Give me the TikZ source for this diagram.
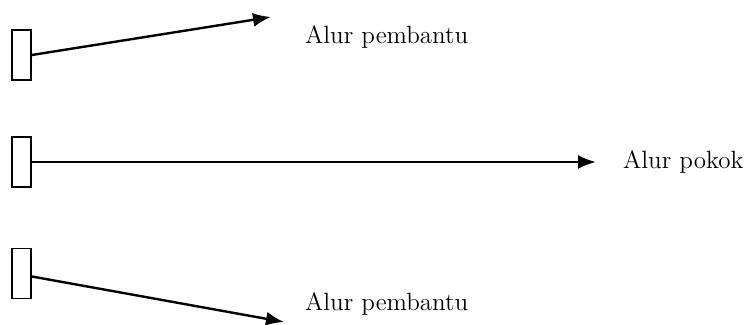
\documentclass[tikz,border=0pt]{standalone}
\usepackage{tikz}
\usetikzlibrary{arrows.meta}

\begin{document}
\begin{tikzpicture}[
    x=0.5pt, y=-0.5pt,
    flow/.style={-{Latex[length=9pt,width=7pt]}, line width=1.2pt},
    post/.style={draw, line width=0.9pt, minimum width=9.5pt, minimum height=25pt, inner sep=0pt},
    every node/.style={color=black, font=\fontsize{12.5}{15}\selectfont}
    ]
    \useasboundingbox (0,0) rectangle (750,325);

    % posts
    \node[post] (p1) at (21.5,55) {};
    \node[post] (p2) at (21.5,162) {};
    \node[post] (p3) at (21.5,273.5) {};
    % arrow ends
    \coordinate (e1) at (271,17);
    \coordinate (e2) at (596,162);
    \coordinate (e3) at (284,322);
    % flows
    \draw[flow] (p1.east) -- (e1);
    \draw[flow] (p2.east) -- (e2);
    \draw[flow] (p3.east) ++(0,3) -- (e3);
    % labels
    \node[anchor=west] (l1) at (298,37) {Alur pembantu};
    \node[anchor=west] (l2) at (616,162) {Alur pokok};
    \node[anchor=west] (l3) at (298,304) {Alur pembantu};
\end{tikzpicture}
\end{document}
